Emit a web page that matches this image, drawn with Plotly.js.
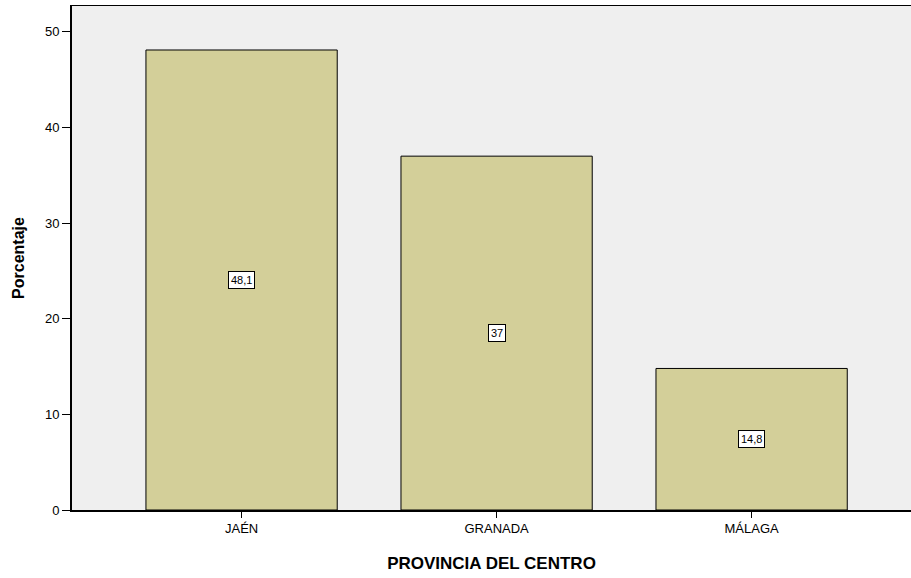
<!DOCTYPE html>
<html><head><meta charset="utf-8">
<script src="https://cdn.plot.ly/plotly-3.0.1.min.js"></script>
<style>body{margin:0;background:#fff}#c{width:911px;height:578px}</style>
</head><body><div id="c"></div>
<script>
const categories = ["JAÉN", "GRANADA", "MÁLAGA"];
const values = [48.1, 37, 14.8];
const valueLabels = ["48,1", "37", "14,8"];
const yTicks = [0, 10, 20, 30, 40, 50];

const trace = {
  type: "bar", x: [0, 1, 2], y: values, width: 0.75,
  marker: {color: "#d3cf99", line: {color: "#000", width: 1}},
  hoverinfo: "none"
};
const annotations = values.map((v, i) => ({
  x: i, y: v / 2, xref: "x", yref: "y", text: valueLabels[i], showarrow: false,
  font: {family: "Arial, Liberation Sans", size: 11, color: "#000"},
  bgcolor: "#fff", bordercolor: "#000", borderwidth: 1, borderpad: 2
}));
const layout = {
  width: 911, height: 578,
  margin: {l: 72, r: 0, t: 6, b: 68},
  paper_bgcolor: "#fff", plot_bgcolor: "#efefef",
  font: {family: "Arial, Liberation Sans", color: "#000"},
  showlegend: false,
  xaxis: {
    range: [-0.665, 2.625], tickvals: [0, 1, 2], ticktext: categories,
    showgrid: false, zeroline: false, showline: true, linecolor: "#000", linewidth: 1.5,
    mirror: true, ticks: "outside", ticklen: 6, tickcolor: "#000", tickwidth: 1,
    tickfont: {size: 13}, fixedrange: true,
    title: {text: "<b>PROVINCIA DEL CENTRO</b>", font: {size: 17}, standoff: 22}
  },
  yaxis: {
    range: [0, 52.7], tickvals: yTicks, showgrid: false, zeroline: false,
    showline: true, linecolor: "#000", linewidth: 2, ticks: "outside", ticklen: 8,
    tickcolor: "#000", tickwidth: 1, tickfont: {size: 13}, fixedrange: true,
    title: {text: "<b>Porcentaje</b>", font: {size: 16}, standoff: 16}
  },
  annotations: annotations
};
Plotly.newPlot("c", [trace], layout, {displayModeBar: false, staticPlot: true});
</script></body></html>
